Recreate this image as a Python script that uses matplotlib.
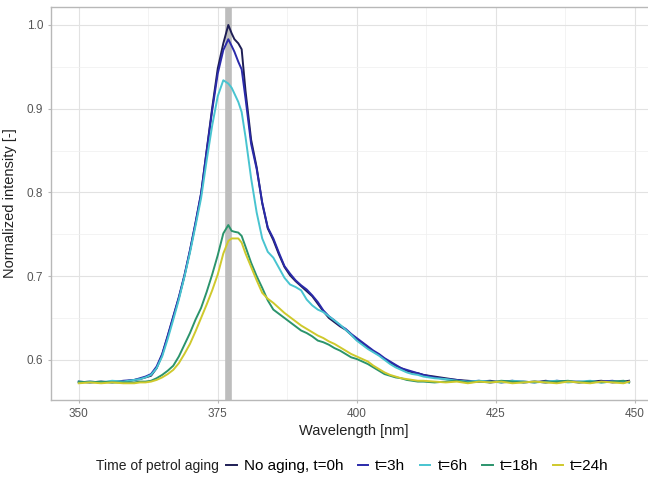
import matplotlib
matplotlib.use('Agg')
import matplotlib.pyplot as plt
from matplotlib.ticker import MultipleLocator

plt.rcParams['font.family'] = ['Liberation Sans', 'DejaVu Sans']

# wavelength grid [nm]
wl = [350, 352, 354, 356, 358, 360, 361, 362, 363, 364,
      365, 366, 367, 368, 369, 370, 371, 372, 373, 374,
      375, 376, 376.9, 377.5, 378, 378.7, 379.3, 380, 381, 382,
      383, 384, 385, 386, 387, 388, 389, 390, 391, 392,
      393, 394, 395, 396, 397, 398, 399, 400, 401, 402,
      403, 404, 405, 406, 407, 408, 409, 410, 411, 412,
      414, 416, 418, 420, 422, 424, 426, 428, 430, 432,
      434, 436, 438, 440, 442, 444, 446, 448, 449]

t0 = [.573, .574, .573, .574, .574, .576, .577, .579, .581, .590,
      .606, .628, .651, .674, .700, .730, .763, .798, .850, .901,
      .948, .978, 1.000, .990, .983, .978, .971, .921, .863, .830,
      .787, .757, .743, .726, .711, .701, .694, .688, .682, .676,
      .667, .658, .650, .645, .640, .636, .630, .624, .620, .615,
      .610, .606, .601, .597, .593, .590, .587, .585, .584, .582,
      .580, .578, .576, .575, .574, .575, .573, .574, .574, .573,
      .575, .573, .574, .573, .574, .575, .573, .574, .575]

t3 = [.574, .573, .574, .573, .575, .576, .578, .580, .583, .592,
      .607, .629, .652, .675, .701, .731, .764, .799, .849, .898,
      .942, .970, .983, .975, .968, .956, .947, .912, .858, .828,
      .788, .758, .745, .728, .712, .703, .695, .689, .684, .677,
      .669, .659, .652, .647, .641, .637, .631, .626, .621, .616,
      .611, .607, .602, .598, .594, .590, .588, .586, .584, .582,
      .579, .577, .576, .574, .575, .573, .574, .575, .573, .574,
      .573, .575, .574, .574, .573, .574, .575, .573, .574]

t6 = [.573, .574, .573, .575, .574, .576, .577, .579, .582, .590,
      .604, .625, .648, .672, .699, .728, .760, .793, .838, .880,
      .915, .934, .930, .925, .918, .908, .896, .866, .817, .776,
      .745, .729, .722, .710, .698, .690, .687, .683, .672, .665,
      .660, .657, .652, .647, .642, .636, .630, .623, .618, .613,
      .609, .605, .600, .595, .591, .588, .585, .583, .582, .580,
      .578, .577, .575, .574, .575, .574, .573, .575, .574, .573,
      .574, .575, .573, .574, .575, .573, .574, .574, .573]

t18 = [.574, .573, .574, .573, .573, .573, .574, .574, .575, .578,
       .582, .587, .593, .604, .618, .632, .648, .662, .681, .702,
       .725, .751, .761, .754, .753, .752, .748, .735, .716, .700,
       .686, .671, .660, .655, .650, .645, .640, .635, .632, .628,
       .623, .621, .618, .614, .611, .607, .603, .601, .598, .595,
       .591, .587, .583, .581, .579, .578, .576, .575, .574, .574,
       .573, .574, .575, .573, .574, .573, .575, .574, .573, .574,
       .573, .574, .575, .573, .574, .573, .574, .575, .573]

t24 = [.572, .573, .572, .573, .572, .572, .573, .573, .574, .576,
       .579, .583, .588, .596, .607, .619, .634, .650, .666, .683,
       .702, .727, .742, .745, .745, .745, .740, .727, .711, .695,
       .680, .673, .668, .662, .656, .651, .646, .641, .637, .633,
       .629, .626, .622, .619, .615, .611, .607, .604, .601, .598,
       .593, .589, .585, .582, .580, .578, .577, .576, .575, .575,
       .574, .573, .574, .572, .574, .573, .574, .572, .573, .574,
       .573, .572, .574, .573, .572, .574, .573, .572, .574]

labels = ['No aging, t=0h', 't=3h', 't=6h', 't=18h', 't=24h']
colors = ['#1e1e55', '#2a2aaa', '#48c4d0', '#2b946c', '#cfc92c']
peak_wl = 376.9

fig = plt.figure(figsize=(6.48, 4.82), dpi=100)
ax = fig.add_axes([0.0787, 0.1701, 0.935, 0.8154])

ax.axvline(peak_wl, color='#bdbdbd', lw=4.8, zorder=1)

series = [t0, t3, t6, t18, t24]
for ys, lab, col in zip(series, labels, colors):
    ax.plot(wl, ys, color=col, lw=1.4, label=lab, zorder=3)

ax.set_xlim(345, 454)
ax.set_ylim(0.552, 1.0215)
ax.xaxis.set_major_locator(MultipleLocator(25))
ax.xaxis.set_minor_locator(MultipleLocator(12.5))
ax.yaxis.set_minor_locator(MultipleLocator(0.05))
ax.set_yticks([0.6, 0.7, 0.8, 0.9, 1.0])
ax.set_yticklabels(['0.6', '0.7', '0.8', '0.9', '1.0'])

ax.grid(which='major', color='#e2e2e2', lw=0.8, zorder=0)
ax.grid(which='minor', color='#efefef', lw=0.5, zorder=0)
ax.set_axisbelow(True)
for s in ax.spines.values():
    s.set_color('#b8b8b8')
    s.set_linewidth(1.0)
ax.spines['right'].set_visible(False)
ax.tick_params(which='major', length=2.5, color='#b8b8b8', labelsize=8.5,
               labelcolor='#555555', pad=3)
ax.tick_params(which='minor', length=0)

ax.set_xlabel('Wavelength [nm]', fontsize=10.5, color='#222222', labelpad=3)
ax.set_ylabel('Normalized intensity [-]', fontsize=10.5, color='#222222', labelpad=7)

fig.text(96 / 648, 1 - 466 / 482, 'Time of petrol aging', fontsize=10,
         color='#222222', va='center', ha='left')
handles, labs = ax.get_legend_handles_labels()
fig.legend(handles, labs, loc='center left', bbox_to_anchor=(226 / 648, 1 - 466 / 482),
           ncol=5, frameon=False, fontsize=11, handlelength=0.7, handletextpad=0.45,
           columnspacing=0.95, borderpad=0, borderaxespad=0)

fig.savefig('out.png', dpi=100)
